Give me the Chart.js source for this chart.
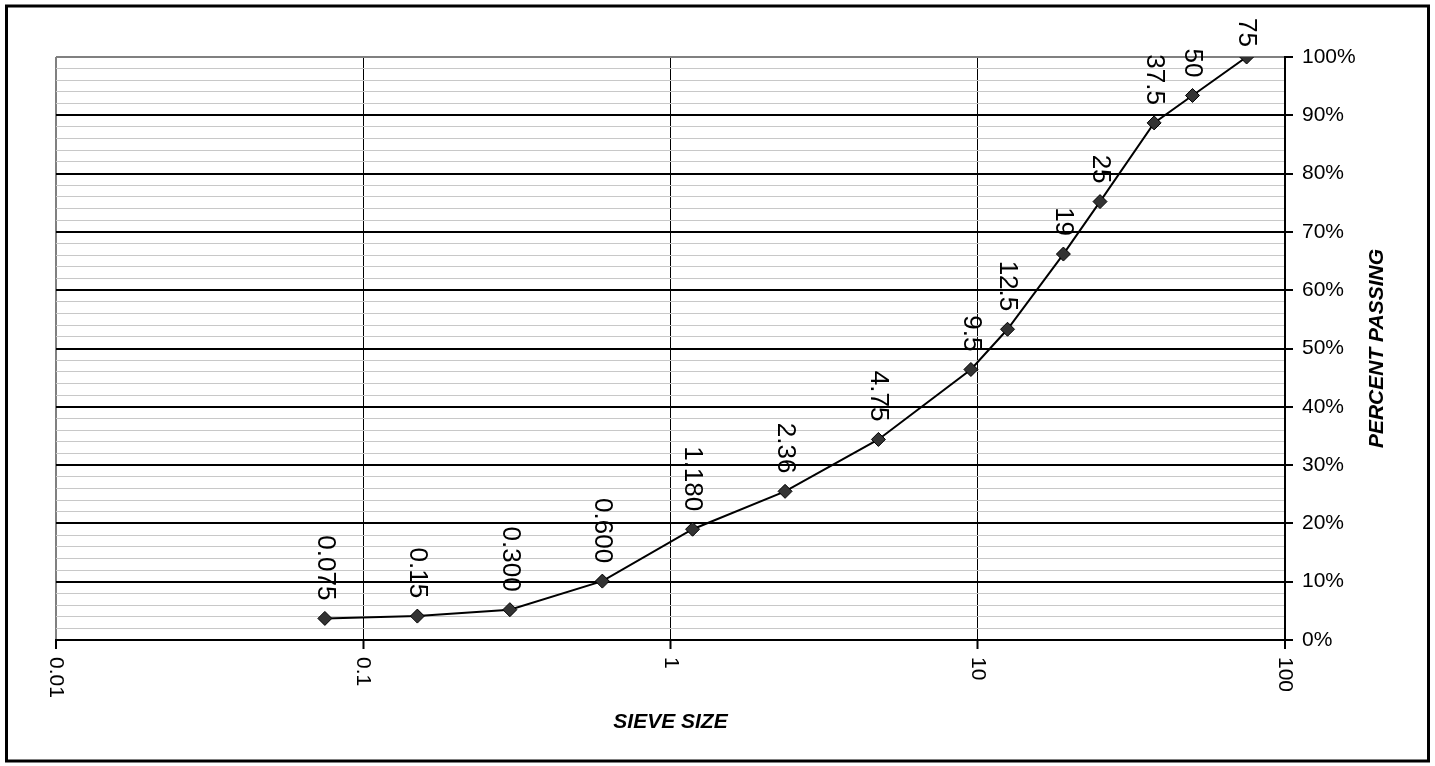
<!DOCTYPE html>
<html>
<head>
<meta charset="utf-8">
<script src="https://cdn.jsdelivr.net/npm/chart.js@4.4.0/dist/chart.umd.min.js"></script>
<style>
    html, body { margin: 0; padding: 0; background: #ffffff; }
    canvas { display: block; }
</style>
</head>
<body>
<canvas id="gradationChart" width="1435" height="766"></canvas>
<script>
// Sieve analysis - grading curve

const sieveSizes = [0.075, 0.15, 0.3, 0.6, 1.18, 2.36, 4.75, 9.5, 12.5, 19, 25, 37.5, 50, 75];
const sieveLabels = ['0.075', '0.15', '0.300', '0.600', '1.180', '2.36', '4.75', '9.5', '12.5', '19', '25', '37.5', '50', '75'];
const percentPassing = [3.7, 4.1, 5.2, 10.1, 19.0, 25.5, 34.4, 46.4, 53.3, 66.2, 75.2, 88.7, 93.4, 100];
const xTickValues = [0.01, 0.1, 1, 10, 100];
const xTickLabels = ['0.01', '0.1', '1', '10', '100'];

const FONT = "'Liberation Sans', Arial, sans-serif";

// Frame, rotated labels and axis titles
const textPlugin = {
    id: 'gradationText',
    beforeDraw(chart) {
        const c = chart.ctx;
        c.save();
        c.fillStyle = '#ffffff';
        c.fillRect(0, 0, chart.width, chart.height);
        c.restore();
    },
    afterDraw(chart) {
        const c = chart.ctx;
        const x = chart.scales.x;
        const area = chart.chartArea;

        // point labels, reading top to bottom
        c.save();
        c.fillStyle = '#000000';
        c.font = '26px ' + FONT;
        c.textAlign = 'right';
        c.textBaseline = 'middle';
        chart.getDatasetMeta(0).data.forEach(function (pt, i) {
            const label = sieveLabels[i];
            const w = c.measureText(label).width;
            const endY = Math.max(pt.y - 18, 18 + w);
            c.save();
            c.translate(pt.x, endY);
            c.rotate(Math.PI / 2);
            c.fillText(label, 0, 0);
            c.restore();
        });

        // x tick labels
        c.font = '21px ' + FONT;
        c.textAlign = 'left';
        xTickValues.forEach(function (v, i) {
            c.save();
            c.translate(x.getPixelForValue(v), area.bottom + 17);
            c.rotate(Math.PI / 2);
            c.fillText(xTickLabels[i], 0, 0);
            c.restore();
        });

        // axis titles
        c.font = 'italic bold 21px ' + FONT;
        c.textAlign = 'center';
        c.fillText('SIEVE SIZE', (area.left + area.right) / 2, 722);
        c.save();
        c.translate(1377, (area.top + area.bottom) / 2);
        c.rotate(-Math.PI / 2);
        c.fillText('PERCENT PASSING', 0, 0);
        c.restore();

        // outer frame
        c.strokeStyle = '#000000';
        c.lineWidth = 3;
        c.strokeRect(6.5, 6, 1422, 755);
        c.restore();
    }
};

function initializeGradationChart() {
    const ctx = document.getElementById('gradationChart');
    if (!ctx) return;

    const points = sieveSizes.map((s, i) => ({ x: s, y: percentPassing[i] }));

    new Chart(ctx, {
        type: 'scatter',
        data: {
            datasets: [{
                data: points,
                showLine: true,
                borderColor: '#000000',
                borderWidth: 2,
                tension: 0,
                pointStyle: 'rectRot',
                pointRadius: 7,
                pointHoverRadius: 7,
                pointBackgroundColor: '#333333',
                pointBorderColor: '#000000',
                pointBorderWidth: 1
            }]
        },
        options: {
            responsive: false,
            animation: false,
            devicePixelRatio: 1,
            layout: {
                padding: { left: 56, top: 57, right: 0, bottom: 0 }
            },
            plugins: {
                legend: { display: false },
                tooltip: { enabled: false }
            },
            scales: {
                x: {
                    type: 'logarithmic',
                    position: 'bottom',
                    min: 0.01,
                    max: 100,
                    afterBuildTicks: function (scale) {
                        scale.ticks = xTickValues.map(v => ({ value: v }));
                    },
                    afterFit: function (scale) {
                        scale.height = 126;
                    },
                    ticks: { display: false },
                    border: { display: true, color: '#000000', width: 2 },
                    grid: {
                        drawTicks: true,
                        tickLength: 9,
                        color: function (context) {
                            const v = context.tick ? context.tick.value : 0;
                            return v === 0.01 ? '#808080' : '#000000';
                        },
                        lineWidth: function (context) {
                            const v = context.tick ? context.tick.value : 0;
                            return (v === 0.01 || v === 100) ? 2 : 1;
                        },
                        tickColor: '#000000',
                        tickWidth: 2
                    }
                },
                y: {
                    position: 'right',
                    min: 0,
                    max: 100,
                    afterFit: function (scale) {
                        scale.width = 150;
                    },
                    ticks: {
                        stepSize: 2,
                        autoSkip: false,
                        padding: 9,
                        color: '#000000',
                        font: { size: 21, family: FONT },
                        callback: function (value) {
                            return value % 10 === 0 ? value + '%' : '';
                        }
                    },
                    border: { display: true, color: '#000000', width: 2 },
                    grid: {
                        drawTicks: true,
                        tickLength: 8,
                        color: function (context) {
                            const v = context.tick ? context.tick.value : 0;
                            if (v === 100) return '#808080';
                            return v % 10 === 0 ? '#000000' : '#c8c8c8';
                        },
                        lineWidth: function (context) {
                            const v = context.tick ? context.tick.value : 0;
                            return v % 10 === 0 ? 2 : 1;
                        },
                        tickColor: function (context) {
                            const v = context.tick ? context.tick.value : 0;
                            return v % 10 === 0 ? '#000000' : 'rgba(0,0,0,0)';
                        },
                        tickWidth: 2
                    }
                }
            }
        },
        plugins: [textPlugin]
    });
}

document.addEventListener('DOMContentLoaded', function () {
    initializeGradationChart();
});
</script>
</body>
</html>
